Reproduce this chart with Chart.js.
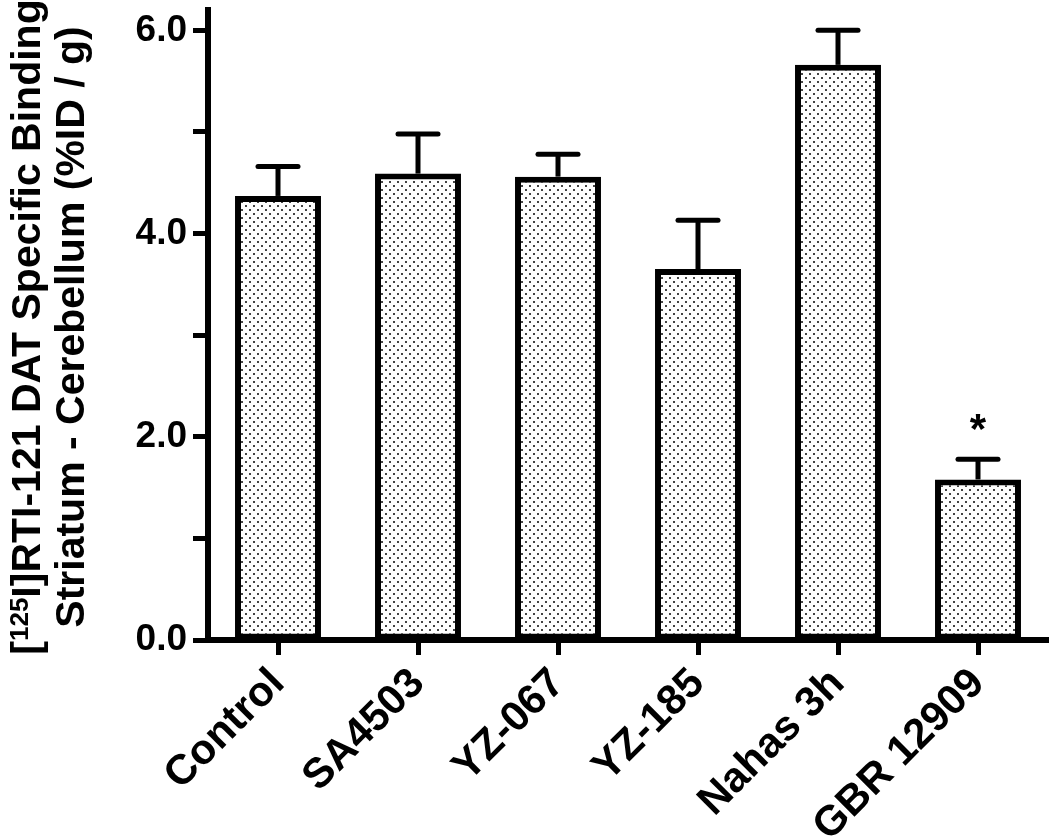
<!DOCTYPE html>
<html>
<head>
<meta charset="utf-8">
<script src="https://cdn.jsdelivr.net/npm/chart.js@4.4.1/dist/chart.umd.min.js"></script>
<style>
  html, body { margin: 0; padding: 0; background: #fff; }
  #chart { display: block; }
</style>
</head>
<body>
<canvas id="chart" width="1050" height="836"></canvas>
<script>
const groups = ['Control', 'SA4503', 'YZ-067', 'YZ-185', 'Nahas 3h', 'GBR 12909'];
const means = [4.37, 4.59, 4.56, 3.65, 5.66, 1.58];
const sems = [0.29, 0.39, 0.22, 0.48, 0.34, 0.20];
const marks = ['', '', '', '', '', '*'];
const yTicks = [0, 1, 2, 3, 4, 5, 6];
const yLabelled = [0, 2, 4, 6];

const FONT = '"Liberation Sans", Arial, Helvetica, sans-serif';

// white fill with a fine dot screen, like the printed figure
function dotPattern() {
  const c = document.createElement('canvas');
  c.width = 8; c.height = 8;
  const g = c.getContext('2d');
  g.fillStyle = '#fff';
  g.fillRect(0, 0, 8, 8);
  g.fillStyle = '#444';
  g.fillRect(1, 1, 2, 2);
  g.fillRect(5, 5, 2, 2);
  return g.createPattern(c, 'repeat');
}

// SEM whiskers (upper only) and significance marks
const errorBars = {
  id: 'errorBars',
  afterDatasetsDraw(chart) {
    const { ctx, scales: { y } } = chart;
    const meta = chart.getDatasetMeta(0);
    ctx.save();
    ctx.strokeStyle = '#000';
    ctx.lineWidth = 5;
    meta.data.forEach((bar, i) => {
      const base = y.getPixelForValue(means[i]);
      const top = y.getPixelForValue(means[i] + sems[i]);
      ctx.lineCap = 'butt';
      ctx.beginPath();
      ctx.moveTo(bar.x, base);
      ctx.lineTo(bar.x, top);
      ctx.stroke();
      ctx.lineCap = 'round';
      ctx.beginPath();
      ctx.moveTo(bar.x - 20, top);
      ctx.lineTo(bar.x + 20, top);
      ctx.stroke();
      if (marks[i]) {
        ctx.fillStyle = '#000';
        ctx.font = 'bold 42px ' + FONT;
        ctx.textAlign = 'center';
        ctx.textBaseline = 'alphabetic';
        ctx.fillText(marks[i], bar.x, top - 16);
      }
    });
    ctx.restore();
  }
};

// two-line rotated y title with a real superscript
const yTitle = {
  id: 'yTitle',
  afterDraw(chart) {
    const ctx = chart.ctx;
    const cy = 327;
    ctx.save();
    ctx.fillStyle = '#000';
    ctx.textBaseline = 'alphabetic';
    ctx.textAlign = 'left';

    const big = 'bold 41px ' + FONT;
    const small = 'bold 26px ' + FONT;
    const parts = [['[', big, 0], ['125', small, 12], ['I]RTI-121 DAT Specific Binding', big, 0]];
    let total = 0;
    parts.forEach(p => { ctx.font = p[1]; total += ctx.measureText(p[0]).width; });
    ctx.save();
    ctx.translate(40, cy);
    ctx.rotate(-Math.PI / 2);
    let x = -total / 2;
    parts.forEach(p => {
      ctx.font = p[1];
      ctx.fillText(p[0], x, -p[2]);
      x += ctx.measureText(p[0]).width;
    });
    ctx.restore();

    ctx.save();
    ctx.translate(84, cy);
    ctx.rotate(-Math.PI / 2);
    ctx.font = big;
    ctx.textAlign = 'center';
    ctx.fillText('Striatum - Cerebellum (%ID / g)', 0, 0);
    ctx.restore();
    ctx.restore();
  }
};

new Chart(document.getElementById('chart'), {
  type: 'bar',
  data: {
    labels: groups,
    datasets: [{
      data: means,
      backgroundColor: dotPattern(),
      borderColor: '#000',
      borderWidth: 6,
      borderSkipped: false,
      barPercentage: 0.614,
      categoryPercentage: 1
    }]
  },
  options: {
    responsive: false,
    animation: false,
    layout: { padding: { top: 10, right: 2, left: 0, bottom: 0 } },
    plugins: {
      legend: { display: false },
      tooltip: { enabled: false }
    },
    scales: {
      x: {
        grid: { drawOnChartArea: false, offset: false, tickLength: 15, tickWidth: 5, color: '#000' },
        border: { color: '#000', width: 6 },
        ticks: {
          color: '#000',
          font: { family: FONT, size: 42, weight: 'bold' },
          maxRotation: 45,
          minRotation: 45,
          padding: 4
        },
        afterFit(scale) {
          scale.height = 196;
          scale.paddingLeft = 0;
          scale.paddingRight = 0;
        }
      },
      y: {
        min: 0,
        max: 6.2,
        grid: { drawOnChartArea: false, tickLength: 15, tickWidth: 5, color: '#000' },
        border: { color: '#000', width: 6 },
        ticks: {
          color: '#000',
          font: { family: FONT, size: 37, weight: 'bold' },
          padding: 6,
          callback: v => yLabelled.includes(v) ? v.toFixed(1) : ''
        },
        afterBuildTicks(scale) { scale.ticks = yTicks.map(v => ({ value: v })); },
        afterFit(scale) {
          scale.width = 208;
          scale.paddingTop = 0;
          scale.paddingBottom = 0;
        }
      }
    }
  },
  plugins: [errorBars, yTitle]
});
</script>
</body>
</html>
